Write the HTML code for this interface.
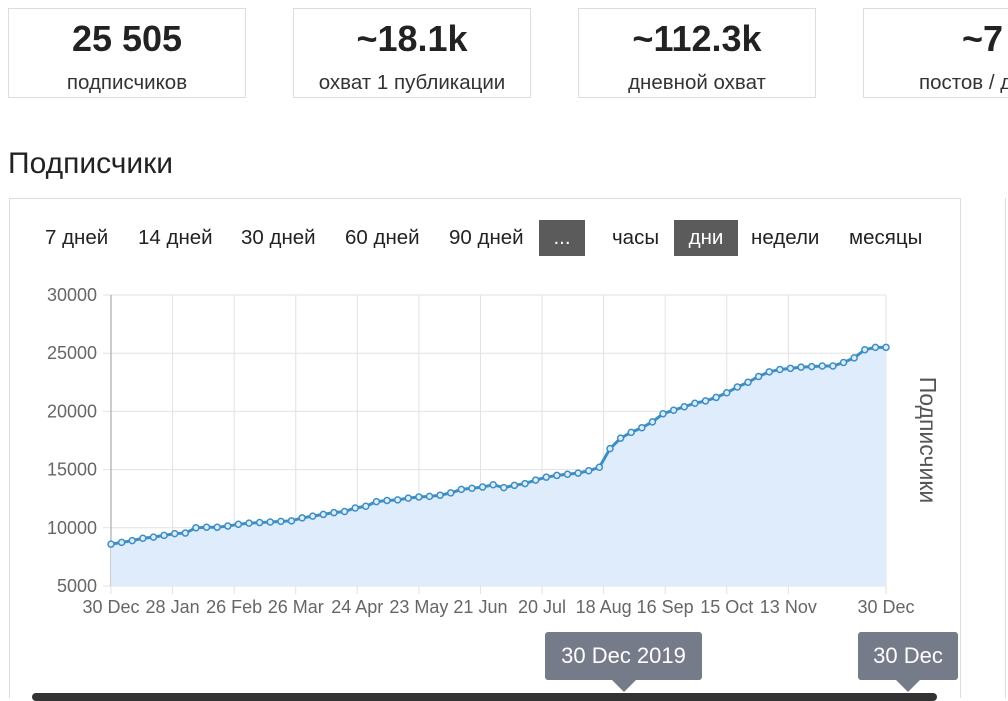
<!DOCTYPE html>
<html><head><meta charset="utf-8"><style>
body{margin:0;width:1008px;height:698px;overflow:hidden;background:#fff;font-family:"Liberation Sans",sans-serif;color:#222;position:relative}
.card{position:absolute;top:8px;height:90px;width:238px;border:1px solid #ddd;box-sizing:border-box;text-align:center;overflow:hidden}
.card b{display:block;font-size:36px;margin-top:10px;line-height:40px}
.card span{display:block;font-size:20.5px;margin-top:12px;color:#333;white-space:nowrap}
.btn{position:absolute;top:220px;height:36px;line-height:36px;font-size:20.5px;color:#222;padding:0 6px;white-space:nowrap}
.dark{background:#5b5b5b;color:#fff}
.tip{position:absolute;background:#767b8a;color:#fff;font-size:22px;text-align:center;border-radius:3px;height:48px;line-height:48px;top:632px}
.tip:after{content:"";position:absolute;left:50%;bottom:-12px;margin-left:-12px;border:12px solid transparent;border-bottom:0;border-top-color:#767b8a}
</style></head><body>
<div class="card" style="left:8px"><b>25 505</b><span>подписчиков</span></div>
<div class="card" style="left:293px"><b>~18.1k</b><span>охват 1 публикации</span></div>
<div class="card" style="left:578px"><b>~112.3k</b><span>дневной охват</span></div>
<div class="card" style="left:863px;width:145px;border-right:0;text-align:left"><b style="padding-left:98px">~7</b><span style="padding-left:55px">постов / день</span></div>
<div style="position:absolute;left:8px;top:147px;font-size:30px">Подписчики</div>
<div style="position:absolute;left:9px;top:198px;width:952px;height:500px;border:1px solid #ddd;border-bottom:0;box-sizing:border-box"></div>
<div style="position:absolute;left:1005px;top:198px;width:3px;height:500px;border-left:1px solid #ddd;box-sizing:border-box"></div>
<div class="btn" style="left:39px">7 дней</div>
<div class="btn" style="left:132px">14 дней</div>
<div class="btn" style="left:235px">30 дней</div>
<div class="btn" style="left:339px">60 дней</div>
<div class="btn" style="left:443px">90 дней</div>
<div class="btn dark" style="left:539px;width:34px;text-align:center">...</div>
<div class="btn" style="left:606px">часы</div>
<div class="btn dark" style="left:674px;width:52px;text-align:center">дни</div>
<div class="btn" style="left:745px">недели</div>
<div class="btn" style="left:843px">месяцы</div>
<svg id="chart" width="1008" height="698" style="position:absolute;left:0;top:0"></svg>
<div class="tip" style="left:545px;width:157px">30 Dec 2019</div>
<div class="tip" style="left:858px;width:100px">30 Dec</div>
<div style="position:absolute;left:32px;top:693px;width:905px;height:8px;background:#333;border-radius:4px"></div>
<script>
const days=[0,5,10,15,20,25,30,35,40,45,50,55,60,65,70,75,80,85,90,95,100,105,110,115,120,125,130,135,140,145,150,155,160,165,170,175,180,185,190,195,200,205,210,215,220,225,230,235,240,245,250,255,260,265,270,275,280,285,290,295,300,305,310,315,320,325,330,335,340,345,350,355,360,365];
const subs=[8600,8750,8900,9100,9200,9350,9500,9550,10000,10050,10050,10150,10300,10400,10450,10500,10550,10600,10850,11000,11150,11300,11400,11700,11850,12250,12350,12400,12550,12650,12700,12800,13000,13300,13400,13500,13700,13450,13650,13800,14100,14350,14500,14600,14700,14900,15200,16800,17700,18200,18600,19100,19800,20100,20400,20700,20900,21200,21600,22100,22500,23000,23400,23600,23700,23800,23850,23900,23900,24200,24600,25300,25500,25505];
const yTicks=[5000,10000,15000,20000,25000,30000];
const xTickDays=[0,29,58,87,116,145,174,203,232,261,290,319,365];
const xTickLabels=["30 Dec","28 Jan","26 Feb","26 Mar","24 Apr","23 May","21 Jun","20 Jul","18 Aug","16 Sep","15 Oct","13 Nov","30 Dec"];
const X0=111,X1=886,Y0=586,Y1=295;
const x=d=>X0+d/365*(X1-X0);
const y=v=>Y0-(v-5000)/25000*(Y0-Y1);
const svg=document.getElementById('chart');const NS='http://www.w3.org/2000/svg';
function mk(t,a){const e=document.createElementNS(NS,t);for(const k in a)e.setAttribute(k,a[k]);svg.appendChild(e);return e;}
yTicks.forEach(v=>{const l=mk('line',{x1:X0-8,x2:X1,y1:y(v),y2:y(v),stroke:'#e2e2e2'});


const t=mk('text',{x:X0-14,y:y(v)+6,'text-anchor':'end','font-size':18,fill:'#666'});t.textContent=v;

});
xTickDays.forEach((d,i)=>{const l=mk('line',{x1:x(d),x2:x(d),y1:Y1,y2:Y0+8,stroke:'#e2e2e2'});


const t=mk('text',{x:x(d),y:Y0+27,'text-anchor':'middle','font-size':18,fill:'#666'});t.textContent=xTickLabels[i];

});
mk('line',{x1:X0,x2:X0,y1:Y1,y2:Y0,stroke:'#999'});
const wm=mk('text',{x:868,y:564,'text-anchor':'end','font-size':25,fill:'#bbb'});wm.textContent='TGStat.ru';


let p=days.map((d,i)=>x(d)+','+y(subs[i])).join(' L');
const area=mk('path',{d:'M'+x(days[0])+','+Y0+' L'+p+' L'+x(days[days.length-1])+','+Y0+' Z',fill:'#dfecfc'});


const line=mk('path',{d:'M'+p,fill:'none',stroke:'#3d8ec4','stroke-width':3});


days.forEach((d,i)=>{const c=mk('circle',{cx:x(d),cy:y(subs[i]),r:3,fill:'#dfecfc',stroke:'#3d8ec4','stroke-width':1.5});

});
const yt=mk('text',{x:0,y:0,'font-size':23,fill:'#555','text-anchor':'middle',transform:'translate(920,440) rotate(90)'});yt.textContent='Подписчики';


</script>
</body></html>
